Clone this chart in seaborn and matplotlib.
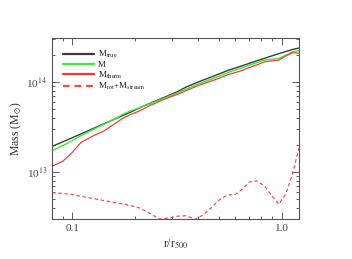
import numpy as np
import pandas as pd
import matplotlib
matplotlib.use("Agg")
import matplotlib.pyplot as plt
import seaborn as sns
from matplotlib.ticker import LogLocator, FixedLocator, NullFormatter, FixedFormatter

# radius in units of r500
r = [0.08, 0.09, 0.1, 0.11, 0.125, 0.14, 0.16, 0.175, 0.19, 0.21, 0.235, 0.26,
     0.29, 0.32, 0.35, 0.385, 0.42, 0.46, 0.5, 0.55, 0.6, 0.65, 0.7, 0.76,
     0.83, 0.9, 0.97, 1.05, 1.13, 1.21]

# log10 of mass (Msun)
log_m_true = [13.285, 13.336, 13.382, 13.424, 13.481, 13.531, 13.590, 13.630,
              13.666, 13.715, 13.764, 13.807, 13.853, 13.896, 13.945, 13.985,
              14.020, 14.055, 14.088, 14.126, 14.155, 14.182, 14.207, 14.235,
              14.264, 14.291, 14.315, 14.340, 14.362, 14.378]
log_m_tot = [13.237, 13.295, 13.350, 13.405, 13.470, 13.525, 13.592, 13.643,
             13.680, 13.715, 13.760, 13.800, 13.843, 13.882, 13.922, 13.962,
             13.998, 14.030, 14.064, 14.102, 14.133, 14.160, 14.186, 14.215,
             14.245, 14.253, 14.263, 14.300, 14.335, 14.350]
log_m_therm = [13.065, 13.120, 13.220, 13.330, 13.400, 13.450, 13.540, 13.600,
               13.640, 13.680, 13.740, 13.785, 13.830, 13.865, 13.905, 13.945,
               13.980, 14.010, 14.040, 14.080, 14.105, 14.130, 14.160, 14.190,
               14.225, 14.235, 14.244, 14.290, 14.326, 14.320]
log_m_rot = [12.770, 12.762, 12.750, 12.730, 12.707, 12.685, 12.660, 12.645,
             12.628, 12.600, 12.540, 12.478, 12.490, 12.510, 12.515, 12.474,
             12.520, 12.600, 12.685, 12.745, 12.750, 12.810, 12.888, 12.903,
             12.844, 12.735, 12.644, 12.760, 12.985, 13.265]

labels = [r"M$_{\rm true}$", "M", r"M$_{\rm therm}$", r"M$_{\rm rot}$+M$_{\rm stream}$"]
x_ticks = [0.1, 1.0]
x_ticklabels = ["0.1", "1.0"]
y_ticks = [1e13, 1e14]
y_ticklabels = [r"10$^{13}$", r"10$^{14}$"]

sns.set_style("ticks")
plt.rcParams["font.family"] = ["Liberation Serif", "DejaVu Serif"]
plt.rcParams["mathtext.fontset"] = "stix"

fig = plt.figure(figsize=(3.52, 2.59), dpi=100)
ax = fig.add_axes([0.148, 0.154, 0.701, 0.699])

series = [
    (log_m_true, "#3a3a3a", "-", 1.0),
    (log_m_tot, "#33ee33", "-", 1.0),
    (log_m_therm, "#ff3333", "-", 0.85),
    (log_m_rot, "#ff4444", (0, (3, 2.2)), 0.85),
]
for (vals, col, ls, lw), lab in zip(series, labels):
    df = pd.DataFrame({"r": r, "M": np.power(10.0, vals)})
    sns.lineplot(data=df, x="r", y="M", ax=ax, color=col, linestyle=ls,
                 linewidth=lw, label=lab)

ax.set_xscale("log")
ax.set_yscale("log")
ax.set_xlim(0.08, 1.21)
ax.set_ylim(3.0e12, 3.08e14)

ax.xaxis.set_major_locator(FixedLocator(x_ticks))
ax.xaxis.set_major_formatter(FixedFormatter(x_ticklabels))
ax.xaxis.set_minor_locator(LogLocator(base=10, subs=np.arange(2, 10)))
ax.xaxis.set_minor_formatter(NullFormatter())
ax.yaxis.set_major_locator(FixedLocator(y_ticks))
ax.yaxis.set_major_formatter(FixedFormatter(y_ticklabels))
ax.yaxis.set_minor_locator(LogLocator(base=10, subs=np.arange(2, 10)))
ax.yaxis.set_minor_formatter(NullFormatter())

ax.tick_params(which="both", direction="in", top=True, right=True,
               colors="#444444", labelsize=8, width=0.6)
ax.tick_params(which="major", length=5)
ax.tick_params(which="minor", length=2.5)
for s in ax.spines.values():
    s.set_color("#555555")
    s.set_linewidth(0.8)

ax.set_xlabel(r"r/r$_{500}$", fontsize=8.5, color="#333333", labelpad=3)
ax.set_ylabel(r"Mass (M$_{\odot}$)", fontsize=8.5, color="#333333", labelpad=2)

leg = ax.legend(loc="upper left", frameon=False, fontsize=6.5, handlelength=3.4,
                handletextpad=0.5, labelspacing=0.05, borderaxespad=0.6,
                borderpad=0.6)
for h in leg.get_lines():
    h.set_linewidth(1.6)
for t in leg.get_texts():
    t.set_color("#222222")

fig.savefig("out.png", dpi=100)
